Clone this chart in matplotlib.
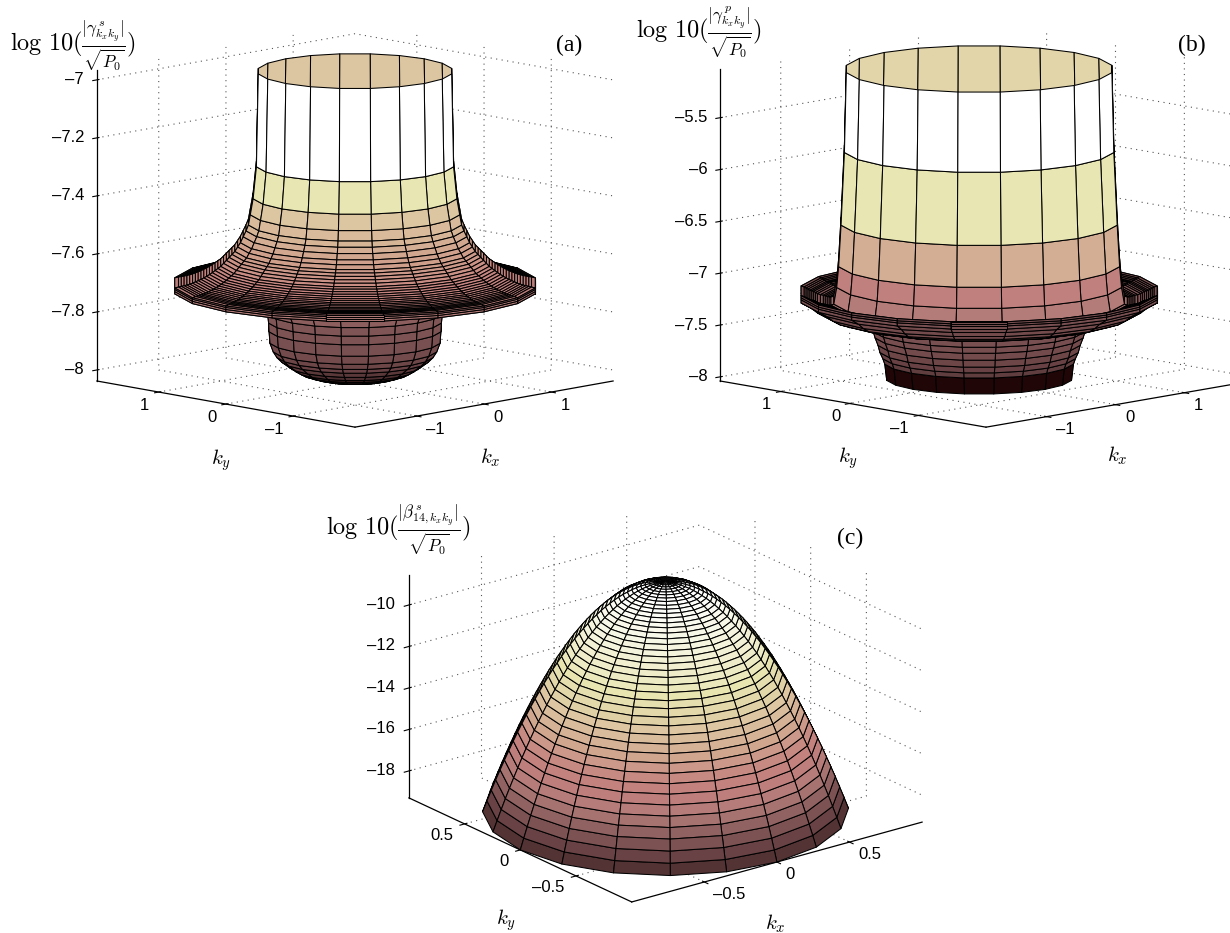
import numpy as np
import matplotlib
matplotlib.use('Agg')
from matplotlib import pyplot as plt
from matplotlib.colors import LinearSegmentedColormap
from mpl_toolkits.mplot3d import Axes3D, proj3d

plt.rcParams['font.family'] = ['Liberation Sans', 'DejaVu Sans']
plt.rcParams['mathtext.fontset'] = 'cm'
plt.rcParams['grid.linestyle'] = (0, (1, 4))
plt.rcParams['grid.color'] = '#555555'
plt.rcParams['grid.linewidth'] = 0.8
plt.rcParams['axes.linewidth'] = 0.7

W, H = 1230, 933

# panel (a): surface profile, top rim first, one shade per band
a_r = [1.03, 1.05, 1.085, 1.115, 1.135, 1.16, 1.19, 1.22, 1.25, 1.28, 1.31, 1.34, 1.37, 1.40, 1.43, 1.46, 1.49,
       1.52, 1.55, 1.58, 1.61, 1.64, 1.67, 1.70, 1.73, 1.76, 1.79, 1.82, 1.85, 1.88, 1.92, 1.92, 1.92, 1.92,
       1.6, 1.3, 1.0, 0.93, 0.92, 0.915, 0.905, 0.87, 0.83, 0.78, 0.70, 0.63, 0.57, 0.48, 0.38, 0.28, 0.16, 0.05]
a_z = [-6.97, -7.29, -7.40, -7.455, -7.49, -7.51, -7.53, -7.55, -7.565, -7.58, -7.59, -7.60, -7.61, -7.62, -7.63, -7.637, -7.644,
       -7.651, -7.657, -7.663, -7.668, -7.673, -7.677, -7.681, -7.685, -7.688, -7.691, -7.693, -7.695, -7.697, -7.70, -7.705, -7.712, -7.72,
       -7.73, -7.745, -7.755, -7.80, -7.83, -7.86, -7.90, -7.93, -7.95, -7.966, -7.985, -8.0, -8.01, -8.02, -8.028, -8.033, -8.036, -8.038]
a_vals = [1.0, 0.85, 0.75, 0.72, 0.70, 0.68, 0.66, 0.64, 0.63, 0.62, 0.61, 0.60, 0.59, 0.58, 0.57, 0.56, 0.55,
          0.55, 0.54, 0.54, 0.53, 0.53, 0.52, 0.52, 0.52, 0.51, 0.51, 0.51, 0.50, 0.50, 0.47, 0.47, 0.47,
          0.35, 0.35, 0.35, 0.35, 0.32, 0.31, 0.30, 0.28, 0.26, 0.24, 0.20, 0.16, 0.12, 0.09, 0.06, 0.03, 0.01, 0.0]
a_inner = 0.75
a_zticks = [-8, -7.8, -7.6, -7.4, -7.2, -7]
a_kticks = [-1, 0, 1]

# panel (b)
b_r = [1.38, 1.40, 1.435, 1.46, 1.48, 1.51, 1.54, 1.56, 1.58, 1.60, 1.62, 1.65, 1.68, 1.70, 1.72, 1.74, 1.76, 1.78, 1.80, 1.82, 1.85,
       1.85, 1.85, 1.85, 1.75, 1.68, 1.6, 1.5, 1.4, 1.3, 1.2, 1.12, 1.10, 1.08, 1.05, 1.03, 1.0, 0.98, 0.96]
b_z = [-5.03, -5.80, -6.50, -6.90, -7.10, -7.26, -7.27, -7.27, -7.265, -7.26, -7.255, -7.25, -7.24, -7.23, -7.22, -7.215, -7.21, -7.20, -7.19, -7.18, -7.17,
       -7.19, -7.21, -7.24, -7.29, -7.34, -7.38, -7.41, -7.43, -7.44, -7.45, -7.467, -7.537, -7.598, -7.67, -7.74, -7.80, -7.853, -8.01]
b_vals = [1.0, 0.85, 0.68, 0.53, 0.47, 0.40, 0.38, 0.36, 0.35, 0.34, 0.34, 0.33, 0.33, 0.33, 0.33, 0.32, 0.32, 0.32, 0.32, 0.31,
          0.30, 0.30, 0.30, 0.28, 0.28, 0.28, 0.28, 0.28, 0.28, 0.28, 0.28, 0.30, 0.29, 0.28, 0.26, 0.24, 0.22, 0.02]
b_inner = 0.80
b_zticks = [-8, -7.5, -7, -6.5, -6, -5.5]
b_kticks = [-1, 0, 1]

# panel (c)
c_r = [1.000, 0.976, 0.952, 0.928, 0.904, 0.880, 0.856, 0.832, 0.808, 0.784, 0.760, 0.736, 0.712, 0.688, 0.664, 0.640, 0.616, 0.592, 0.568, 0.544, 0.520,
       0.496, 0.472, 0.448, 0.424, 0.400, 0.376, 0.352, 0.328, 0.304, 0.280, 0.256, 0.232, 0.208, 0.184, 0.160, 0.136, 0.112, 0.088, 0.064, 0.040, 0.016]
c_z = [-19.30, -18.78, -18.27, -17.77, -17.29, -16.82, -16.36, -15.91, -15.48, -15.06, -14.65, -14.26, -13.88, -13.51, -13.15, -12.81, -12.47, -12.16, -11.85, -11.56, -11.27,
       -11.01, -10.75, -10.51, -10.28, -10.06, -9.86, -9.66, -9.48, -9.32, -9.16, -9.02, -8.89, -8.78, -8.67, -8.58, -8.50, -8.44, -8.385, -8.345, -8.32, -8.30]
c_levels = [-19.3, -17.5, -16.2, -15.2, -14.2, -13.0, -11.5, -10.0, -8.5]
c_shades = [0.12, 0.34, 0.50, 0.56, 0.66, 0.77, 0.87, 0.94, 1.0]
c_zticks = [-18, -16, -14, -12, -10]
c_kticks = [-0.5, 0, 0.5]

shade_cmap = LinearSegmentedColormap.from_list('shades', [
    (0.0, '#1a0000'), (0.15, '#4a2c2e'), (0.3, '#7a5052'), (0.45, '#b07a78'),
    (0.55, '#c4827e'), (0.65, '#d0a48e'), (0.75, '#dcc4a0'), (0.85, '#e8e6b2'), (1.0, '#ffffff')])


def tick_text(vals):
    return [('%g' % v).replace('-', '\u2013') for v in vals]


def panel(r, z, vals, zlim, xlim, ylim, zticks, kticks, azim, elev, center, box, inner=None):
    ax = fig.add_axes([0.1, 0.1, 500 / W, 500 / H], projection='3d', proj_type='ortho')
    ax.set_facecolor('none')
    ax.view_init(elev=elev, azim=azim)
    aspect = np.array(box, dtype=float)
    aspect[2] = aspect[2] / np.cos(np.radians(elev))
    ax.set_box_aspect(aspect)

    theta = np.linspace(0, 2 * np.pi, 21)
    R, T = np.meshgrid(r, theta, indexing='ij')
    X = R * np.cos(T)
    Y = R * np.sin(T)
    Z = np.array(z)[:, None] * np.ones_like(T)
    colors = shade_cmap(np.array(vals))[:, None, :] * np.ones((len(r) - 1, 20, 4))
    if inner is not None:
        mid = 0.5 * (theta[:-1] + theta[1:])
        back = np.cos(mid - np.radians(azim)) < 0
        colors[0, back] = shade_cmap(inner)
    ax.plot_surface(X, Y, Z, facecolors=colors, rstride=1, cstride=1,
                    edgecolor='k', linewidth=0.75, shade=False, antialiased=True)

    ax.set_xlim(*xlim)
    ax.set_ylim(*ylim)
    ax.set_zlim(*zlim)
    ax.set_xticks(kticks)
    ax.set_yticks(kticks)
    ax.set_zticks(zticks)
    ax.set_xticklabels(tick_text(kticks), ha='left', va='center')
    ax.set_yticklabels(tick_text(kticks), ha='right', va='center')
    ax.set_zticklabels(tick_text(zticks), ha='right', va='center')
    for axis in (ax.xaxis, ax.yaxis, ax.zaxis):
        axis.pane.set_visible(False)
        axis.line.set_color('k')
        axis.line.set_linewidth(0.9)
    ax.tick_params(axis='both', labelsize=12, pad=0, width=0.7, length=3)
    ax.tick_params(axis='z', labelsize=12, pad=-2.5)

    # measure the box on screen, then size and move the axes to fit it
    fig.canvas.draw()
    def screen(px, py, pz):
        sx, sy, _ = proj3d.proj_transform(px, py, pz, ax.get_proj())
        return ax.transData.transform((sx, sy))
    p1 = screen(xlim[1], ylim[0], zlim[0])
    p2 = screen(xlim[0], ylim[1], zlim[0])
    mid_pt = screen(0.5 * (xlim[0] + xlim[1]), 0.5 * (ylim[0] + ylim[1]), 0.5 * (zlim[0] + zlim[1]))
    span = abs(p1[0] - p2[0])
    want = box[0] * (abs(np.cos(np.radians(azim + 90))) + abs(np.sin(np.radians(azim + 90))))
    k = want / span
    pos = ax.get_position()
    dx = (mid_pt[0] - pos.x0 * W) * k
    dy = (mid_pt[1] - pos.y0 * H) * k
    ax.set_position([(center[0] - dx) / W, (H - center[1] - dy) / H, 500 * k / W, 500 * k / H])
    return ax


def label(x, y, s, size=13, **kw):
    fig.text(x / W, 1 - y / H, s, fontsize=size, ha='center', va='center', **kw)


fig = plt.figure(figsize=(W / 100, H / 100), dpi=100)

panel(a_r, a_z, a_vals, (-8.038, -6.966), (-1.92, 1.92), (-1.92, 1.92), a_zticks, a_kticks,
      -135, 10.3, (355, 225.5), (365, 365, 311), inner=a_inner)
panel(b_r, b_z, b_vals, (-8.04, -5.03), (-1.88, 1.98), (-1.98, 1.88), b_zticks, b_kticks,
      -135, 10.0, (986, 225), (376, 376, 312), inner=b_inner)
c_vals = np.interp(c_z[1:], c_levels, c_shades)
panel(c_r, c_z, c_vals, (-19.3, -8.55), (-1.0, 1.0), (-1.0, 1.0), c_zticks, c_kticks,
      -127.5, 21, (665.5, 698.5), (366, 366, 223))

label(73, 46, r'$\log\,10(\frac{|\gamma^{\,s}_{k_x k_y}|}{\sqrt{P_0}})$', size=17.5)
label(699, 32, r'$\log\,10(\frac{|\gamma^{\,p}_{k_x k_y}|}{\sqrt{P_0}})$', size=17.5)
label(398, 530, r'$\log\,10(\frac{|\beta^{\,s}_{14,k_x k_y}|}{\sqrt{P_0}})$', size=17.5)

label(569, 45, '(a)', size=17, family='Liberation Serif')
label(1192, 45, '(b)', size=17, family='Liberation Serif')
label(850, 538, '(c)', size=17, family='Liberation Serif')

label(221, 460, r'$k_y$', size=15)
label(490, 458, r'$k_x$', size=15)
label(848, 458, r'$k_y$', size=15)
label(1117, 456, r'$k_x$', size=15)
label(506, 920, r'$k_y$', size=15)
label(775, 924, r'$k_x$', size=15)

fig.savefig('out.png', dpi=100)
